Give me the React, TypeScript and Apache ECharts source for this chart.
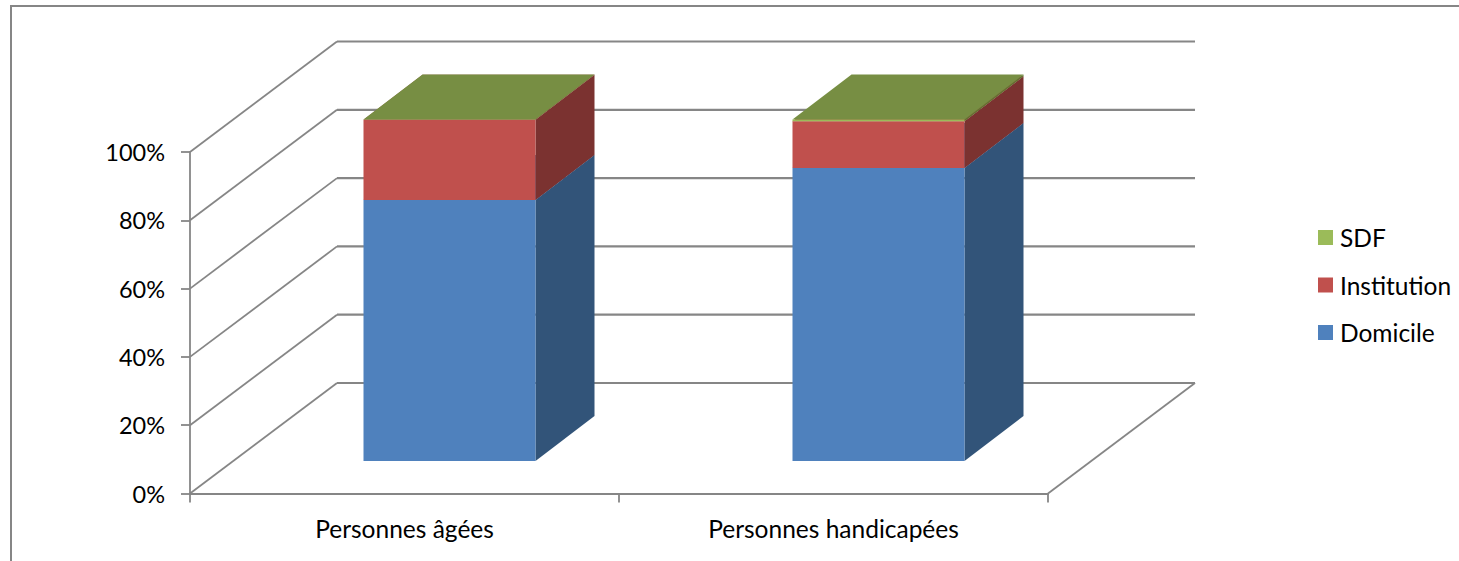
import React, { useEffect, useRef } from "react";
import * as echarts from "echarts";

const categories = ["Personnes âgées", "Personnes handicapées"];
const domicile = [76.4, 85.8];
const institution = [23.5, 13.7];
const sdf = [0.1, 0.5];
const yTicks = [0, 20, 40, 60, 80, 100];

const GRID = "#868686";
const FONT = "Lato, Carlito, Calibri, sans-serif";
const DEPTH_X = 147;
const DEPTH_Y = -110.5;
const GAP_X = 45;
const GAP_Y = -32.5;
const BAR_X = 59;
const BAR_Y = -45;
const HALF_W = 86;

function stackedData(values: number[], below: number[][]) {
  return values.map((v, i) => {
    const base = below.reduce((s, b) => s + b[i], 0);
    return [i, base, base + v];
  });
}

function barRenderer(front: string, side: string, top: string) {
  return (_p: any, api: any) => {
    const i = api.value(0);
    const [cx, y0] = api.coord([i, api.value(1)]);
    const y1 = api.coord([i, api.value(2)])[1];
    const l = cx + GAP_X - HALF_W;
    const r = cx + GAP_X + HALF_W;
    const b = y0 + GAP_Y;
    const t = y1 + GAP_Y;
    const poly = (points: number[][], fill: string) => ({
      type: "polygon",
      silent: true,
      shape: { points },
      style: { fill, stroke: null },
    });
    return {
      type: "group",
      children: [
        poly([[r, b], [r + BAR_X, b + BAR_Y], [r + BAR_X, t + BAR_Y], [r, t]], side),
        poly([[l, t], [r, t], [r + BAR_X, t + BAR_Y], [l + BAR_X, t + BAR_Y]], top),
        poly([[l, b], [r, b], [r, t], [l, t]], front),
      ],
    };
  };
}

function wallRenderer(_p: any, api: any) {
  const v = api.value(0);
  const [x0, y] = api.coord([0, v]);
  const xEnd = api.coord([categories.length - 1, v])[0];
  const bandHalf = api.size([1, 0])[0] / 2;
  const left = x0 - bandHalf;
  const right = xEnd + bandHalf;
  const children: any[] = [
    {
      type: "line",
      silent: true,
      shape: { x1: left, y1: y, x2: left + DEPTH_X, y2: y + DEPTH_Y },
      style: { stroke: GRID, lineWidth: 1.8 },
    },
    {
      type: "line",
      silent: true,
      shape: { x1: left + DEPTH_X, y1: y + DEPTH_Y, x2: right + DEPTH_X, y2: y + DEPTH_Y },
      style: { stroke: GRID, lineWidth: 2.2 },
    },
  ];
  if (v === 0) {
    children.push({
      type: "line",
      silent: true,
      shape: { x1: right, y1: y, x2: right + DEPTH_X, y2: y + DEPTH_Y },
      style: { stroke: GRID, lineWidth: 1.8 },
    });
  }
  return { type: "group", children };
}

export default function App() {
  const ref = useRef<HTMLDivElement>(null);
  useEffect(() => {
    const chart = echarts.init(ref.current!, undefined, { renderer: "svg" });
    chart.setOption({
      animation: false,
      backgroundColor: "#ffffff",
      textStyle: { fontFamily: FONT },
      grid: { left: 190, right: 411, top: 152, bottom: 67.5, containLabel: false },
      legend: {
        orient: "vertical",
        left: 1318,
        top: 225,
        icon: "rect",
        itemWidth: 15,
        itemHeight: 15,
        itemGap: 22.5,
        data: ["SDF", "Institution", "Domicile"],
        textStyle: { color: "#000", fontSize: 24.5, fontFamily: FONT, padding: [0, 0, 0, 2] },
        padding: 0,
      },
      xAxis: {
        type: "category",
        data: categories,
        boundaryGap: true,
        axisLine: { lineStyle: { color: GRID, width: 2 } },
        axisTick: { show: true, length: 9, alignWithLabel: false, lineStyle: { color: GRID, width: 1.8 } },
        axisLabel: { color: "#000", fontSize: 24.5, fontFamily: FONT, margin: 22 },
      },
      yAxis: {
        type: "value",
        min: 0,
        max: 100,
        interval: 20,
        axisLine: { show: true, lineStyle: { color: GRID, width: 1.8 } },
        axisTick: { show: true, length: 9, lineStyle: { color: GRID, width: 1.8 } },
        axisLabel: { color: "#000", fontSize: 23.5, fontFamily: FONT, margin: 25, padding: [3, 0, 0, 0], formatter: "{value}%" },
        splitLine: { show: false },
      },
      graphic: [
        {
          type: "polyline",
          silent: true,
          shape: { points: [[11, 561], [11, 6], [1459, 6]] },
          style: { fill: "none", stroke: GRID, lineWidth: 2 },
        },
      ],
      series: [
        {
          type: "custom",
          name: "walls",
          z: 1,
          silent: true,
          data: yTicks.map((v) => [v]),
          encode: { y: 0 },
          renderItem: wallRenderer,
        },
        {
          type: "custom",
          name: "Domicile",
          z: 2,
          itemStyle: { color: "#4F81BD" },
          data: stackedData(domicile, []),
          encode: { x: 0, y: [1, 2] },
          renderItem: barRenderer("#4F81BD", "#325479", "#3E6797"),
        },
        {
          type: "custom",
          name: "Institution",
          z: 3,
          itemStyle: { color: "#C0504D" },
          data: stackedData(institution, [domicile]),
          encode: { x: 0, y: [1, 2] },
          renderItem: barRenderer("#C0504D", "#7B3230", "#9A403E"),
        },
        {
          type: "custom",
          name: "SDF",
          z: 4,
          itemStyle: { color: "#9BBB59" },
          data: stackedData(sdf, [domicile, institution]),
          encode: { x: 0, y: [1, 2] },
          renderItem: barRenderer("#9BBB59", "#5F7530", "#778E43"),
        },
      ],
    });
    return () => chart.dispose();
  }, []);
  return (
    <div
      ref={ref}
      style={{ position: "fixed", left: 0, top: 0, width: 1459, height: 561 }}
    />
  );
}
